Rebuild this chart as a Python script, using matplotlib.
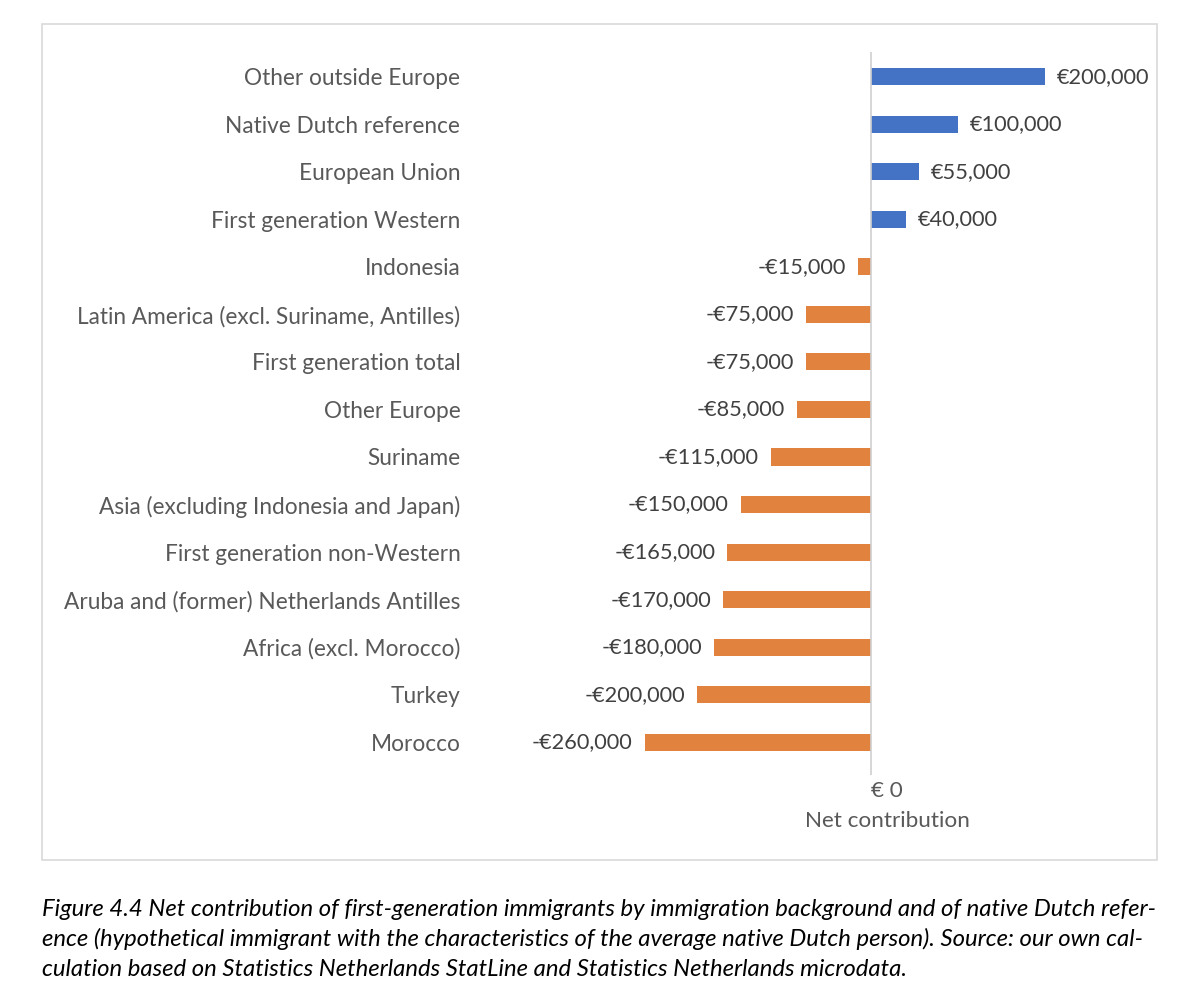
import matplotlib.pyplot as plt
from matplotlib.patches import Rectangle

categories = [
    'Other outside Europe',
    'Native Dutch reference',
    'European Union',
    'First generation Western',
    'Indonesia',
    'Latin America (excl. Suriname, Antilles)',
    'First generation total',
    'Other Europe',
    'Suriname',
    'Asia (excluding Indonesia and Japan)',
    'First generation non-Western',
    'Aruba and (former) Netherlands Antilles',
    'Africa (excl. Morocco)',
    'Turkey',
    'Morocco',
]
values = [200000, 100000, 55000, 40000, -15000, -75000, -75000, -85000,
          -115000, -150000, -165000, -170000, -180000, -200000, -260000]

caption_lines = [
    'Figure 4.4 Net contribution of first-generation immigrants by immigration background and of native Dutch refer-',
    'ence (hypothetical immigrant with the characteristics of the average native Dutch person). Source: our own cal-',
    'culation based on Statistics Netherlands StatLine and Statistics Netherlands microdata.',
]

W, H = 1200, 1001
plt.rcParams['font.family'] = ['Lato', 'DejaVu Sans']

fig = plt.figure(figsize=(W / 100, H / 100), dpi=100)

# outer chart frame
fig.patches.append(Rectangle((42 / W, 1 - 860 / H), (1157 - 42) / W, (860 - 24) / H,
                             transform=fig.transFigure, fill=False,
                             edgecolor='#D9D9D9', linewidth=1.2))

ax_l, ax_r, ax_t, ax_b = 470, 1150, 52, 775
ax = fig.add_axes([ax_l / W, 1 - ax_b / H, (ax_r - ax_l) / W, (ax_b - ax_t) / H])

px_per_unit = 174 / 200000
zero_px = 871
ax.set_xlim(-(zero_px - ax_l) / px_per_unit, (ax_r - zero_px) / px_per_unit)
ax.set_ylim(14.69, -0.52)

ys = list(range(len(categories)))
colors = ['#4472C4' if v > 0 else '#E2823F' for v in values]
ax.barh(ys, values, height=0.36, color=colors, zorder=2)
ax.axvline(0, color='#D0D0D0', linewidth=1.2, zorder=3)

for y, v in zip(ys, values):
    if v >= 0:
        ax.annotate(f'€{v:,}', (v, y), xytext=(12, 0), textcoords='offset pixels',
                    ha='left', va='center', fontsize=15.7, color='#404040')
    else:
        ax.annotate(f'-€{-v:,}', (v, y), xytext=(-12, 0), textcoords='offset pixels',
                    ha='right', va='center', fontsize=15.7, color='#404040')

ax.set_yticks(ys)
ax.set_yticklabels(categories, fontsize=16.3, color='#595959')
ax.tick_params(axis='y', length=0, pad=7)
ax.set_xticks([])
# zero tick label and axis title, placed as Excel does (slightly right of zero)
ax.annotate('€ 0', (0, 14.69), xytext=(16, -16), textcoords='offset pixels',
            ha='center', va='center', fontsize=16.2, color='#595959',
            annotation_clip=False)
ax.annotate('Net contribution', (0, 14.69), xytext=(16, -46), textcoords='offset pixels',
            ha='center', va='center', fontsize=16.2, color='#595959',
            annotation_clip=False)
for s in ax.spines.values():
    s.set_visible(False)

for i, line in enumerate(caption_lines):
    fig.text(42 / W, 1 - (909 + 30 * i) / H, line, fontsize=17.2, style='italic',
             color='black', ha='left', va='center')

fig.savefig('out.png', dpi=100)
